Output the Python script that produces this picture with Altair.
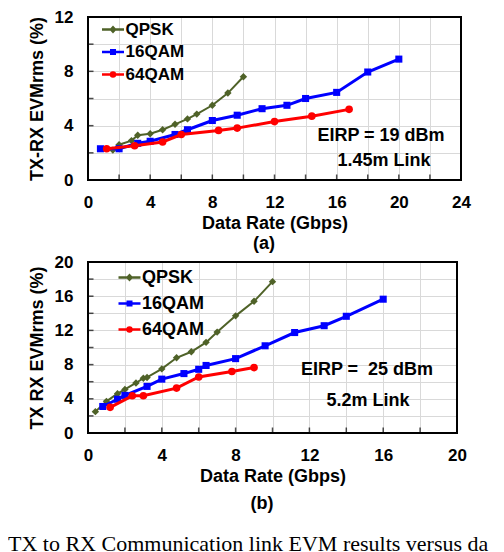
import altair as alt
import pandas as pd

SERIES = ["QPSK", "16QAM", "64QAM"]
COLORS = ["#4f6228", "#0000ff", "#ff0000"]
SHAPES = ["diamond", "square", "circle"]
MARK_SIZES = [55, 50, 58]
LINE_WIDTHS = [2, 3, 3]
LEGEND_SHAPES = [
    "M-1,0H1M0,-0.2L0.18,0L0,0.2L-0.18,0Z",
    "M-1,0H1M-0.16,-0.16H0.16V0.16H-0.16Z",
    "M-1,0H1M-0.18,0A0.18,0.18,0,1,0,0.18,0A0.18,0.18,0,1,0,-0.18,0Z",
]

# ---- panel (a) ----
A_QPSK_X = [1.6, 2, 2.8, 3.2, 4, 4.8, 5.6, 6.4, 7, 8, 9, 10]
A_QPSK_Y = [2.2, 2.6, 2.9, 3.3, 3.4, 3.7, 4.1, 4.5, 4.85, 5.5, 6.4, 7.6]
A_16_X = [0.8, 2, 3.2, 4, 5.6, 6.4, 8, 9.6, 11.2, 12.8, 14, 16, 18, 20]
A_16_Y = [2.3, 2.3, 2.7, 2.85, 3.35, 3.7, 4.38, 4.77, 5.25, 5.5, 6.0, 6.45, 7.95, 8.9]
A_64_X = [1.2, 3, 4.8, 6, 8.4, 9.6, 12, 14.4, 16.8]
A_64_Y = [2.3, 2.52, 2.8, 3.35, 3.65, 3.82, 4.3, 4.7, 5.2]
A_XTICKS = [0, 2, 4, 6, 8, 10, 12, 14, 16, 18, 20, 22, 24]
A_YTICKS = [0, 2, 4, 6, 8, 10, 12]
A_YTITLE = "TX-RX EVMrms (%)"
A_NOTES = ["EIRP = 19 dBm", "1.45m Link"]
A_SUB = "(a)"

# ---- panel (b) ----
B_QPSK_X = [0.4, 1, 1.6, 2, 2.6, 3, 3.2, 4, 4.8, 5.6, 6.4, 7, 8, 9, 10]
B_QPSK_Y = [2.5, 3.7, 4.6, 5.1, 5.85, 6.4, 6.5, 7.5, 8.8, 9.5, 10.6, 11.8, 13.7, 15.4, 17.7]
B_16_X = [0.8, 1.6, 2, 3.2, 4, 5.2, 6, 6.4, 8, 9.6, 11.2, 12.8, 14, 16]
B_16_Y = [3.1, 3.95, 4.4, 5.45, 6.3, 6.95, 7.45, 7.9, 8.7, 10.2, 11.75, 12.55, 13.65, 15.65]
B_64_X = [1.2, 2.4, 3, 4.8, 6, 7.8, 9]
B_64_Y = [3.0, 4.35, 4.35, 5.25, 6.55, 7.2, 7.65]
B_XTICKS = [0, 2, 4, 6, 8, 10, 12, 14, 16, 18, 20]
B_YTICKS = [0, 2, 4, 6, 8, 10, 12, 14, 16, 18, 20]
B_YTITLE = "TX RX EVMrms (%)"
B_NOTES = ["EIRP =\u00a0 25 dBm", "5.2m Link"]
B_SUB = "(b)"
CAPTION = "TX to RX Communication link EVM results versus da"

XTITLE = "Data Rate (Gbps)"
FONT = "Liberation Sans"


def text_layer(txt, px, py, size=18, weight="bold", font=FONT, align="center", baseline="middle"):
    return alt.Chart(pd.DataFrame({"t": [txt]})).mark_text(
        font=font, fontSize=size, fontWeight=weight, color="black",
        align=align, baseline=baseline
    ).encode(text="t:N", x=alt.value(px), y=alt.value(py))


def panel(xs_list, ys_list, xticks, yticks, W, H, ytitle, notes, note_pos,
          sub, sub_pos, legend, extra=None):
    rows = []
    for name, xs, ys in zip(SERIES, xs_list, ys_list):
        rows += [{"series": name, "x": x, "y": y} for x, y in zip(xs, ys)]
    df = pd.DataFrame(rows)

    xscale = alt.Scale(domain=[xticks[0], xticks[-1]], nice=False, zero=False)
    yscale = alt.Scale(domain=[yticks[0], yticks[-1]], nice=False, zero=False)
    cscale = alt.Scale(domain=SERIES, range=COLORS)
    label_expr = "datum.value % 4 === 0 ? datum.label : ''"

    xaxis = alt.Axis(values=xticks, labelExpr=label_expr, title=XTITLE,
                     labelPadding=14, titlePadding=4, labelFlush=False)
    yaxis = alt.Axis(values=yticks, labelExpr=label_expr, title=ytitle,
                     labelPadding=15, titlePadding=8)

    def X(f):
        return alt.X(f, scale=xscale, axis=xaxis)

    def Y(f):
        return alt.Y(f, scale=yscale, axis=yaxis)

    layers = []
    for name, col, shp, sz, lw in zip(SERIES, COLORS, SHAPES, MARK_SIZES, LINE_WIDTHS):
        sub_df = alt.Chart(df).transform_filter(alt.datum.series == name)
        layers.append(sub_df.mark_line(color=col, strokeWidth=lw).encode(x=X("x:Q"), y=Y("y:Q")))
        layers.append(
            sub_df.mark_point(filled=True, shape=shp, size=sz, color=col, opacity=1)
            .encode(x=X("x:Q"), y=Y("y:Q"))
        )

    leg_layer = alt.Chart(pd.DataFrame({"series": SERIES})).mark_point(filled=True, size=0).encode(
        fill=alt.Fill("series:N", scale=cscale, legend=legend),
        stroke=alt.Stroke("series:N", scale=cscale, legend=legend),
        shape=alt.Shape("series:N", scale=alt.Scale(domain=SERIES, range=LEGEND_SHAPES), legend=legend),
    )
    layers.append(leg_layer)

    xt = alt.Chart(pd.DataFrame({"v": xticks})).mark_tick(color="black", thickness=1.5, size=5).encode(
        x=X("v:Q"), y=alt.value(H - 3))
    yt = alt.Chart(pd.DataFrame({"v": yticks})).mark_tick(color="black", thickness=1.5, size=5).encode(
        y=Y("v:Q"), x=alt.value(3))
    layers += [xt, yt]

    frame = alt.Chart(pd.DataFrame({"x0": [xticks[0]], "x1": [xticks[-1]], "y0": [yticks[0]], "y1": [yticks[-1]]})).mark_rect(
        filled=False, stroke="black", strokeWidth=2
    ).encode(x=X("x0:Q"), x2="x1:Q", y=Y("y0:Q"), y2="y1:Q")
    layers.append(frame)

    for txt, (px, py) in zip(notes, note_pos):
        layers.append(text_layer(txt, px, py))
    layers.append(text_layer(sub, sub_pos[0], sub_pos[1]))
    if extra is not None:
        layers.append(extra)

    return alt.layer(*layers).properties(width=W, height=H)


def make_legend(lx, ly, fsize, rowpad):
    return alt.Legend(
        title=None, orient="none", legendX=lx, legendY=ly,
        labelFont=FONT, labelFontSize=fsize, labelFontWeight="bold", labelColor="black",
        symbolSize=484, symbolStrokeWidth=2.5, symbolOpacity=1, padding=0,
        rowPadding=rowpad, labelOffset=0,
    )


HA = 163
HB = 171
chart_a = panel([A_QPSK_X, A_16_X, A_64_X], [A_QPSK_Y, A_16_Y, A_64_Y], A_XTICKS, A_YTICKS,
                373, HA, A_YTITLE, A_NOTES, [(293, 119), (296, 144)], A_SUB, (176, HA + 64),
                make_legend(12.5, 0, 17, 1.5))
caption = text_layer(CAPTION, -80, 272, size=22, weight="normal", font="Liberation Serif",
                     align="left", baseline="top")
chart_b = panel([B_QPSK_X, B_16_X, B_64_X], [B_QPSK_Y, B_16_Y, B_64_Y], B_XTICKS, B_YTICKS,
                369, HB, B_YTITLE, B_NOTES, [(279, 108), (280, 139)], B_SUB, (174, HB + 71),
                make_legend(29, 3, 18, 4), extra=caption)

chart = alt.vconcat(chart_a, chart_b, spacing=0).resolve_scale(
    fill="independent", stroke="independent", shape="independent"
).resolve_legend(
    fill="independent", stroke="independent", shape="independent"
).properties(
    padding={"left": 0, "top": 0, "right": 0, "bottom": 0}
).configure(font=FONT).configure_view(stroke=None).configure_axis(
    grid=True, gridColor="#d9d9d9", gridWidth=1, domain=False, ticks=False, tickSize=0,
    labelFont=FONT, labelFontSize=17, labelFontWeight="bold", labelColor="black",
    titleFont=FONT, titleFontSize=18, titleFontWeight="bold", titleColor="black",
)

chart.save("out.html", embed_options={"renderer": "svg", "actions": False})
